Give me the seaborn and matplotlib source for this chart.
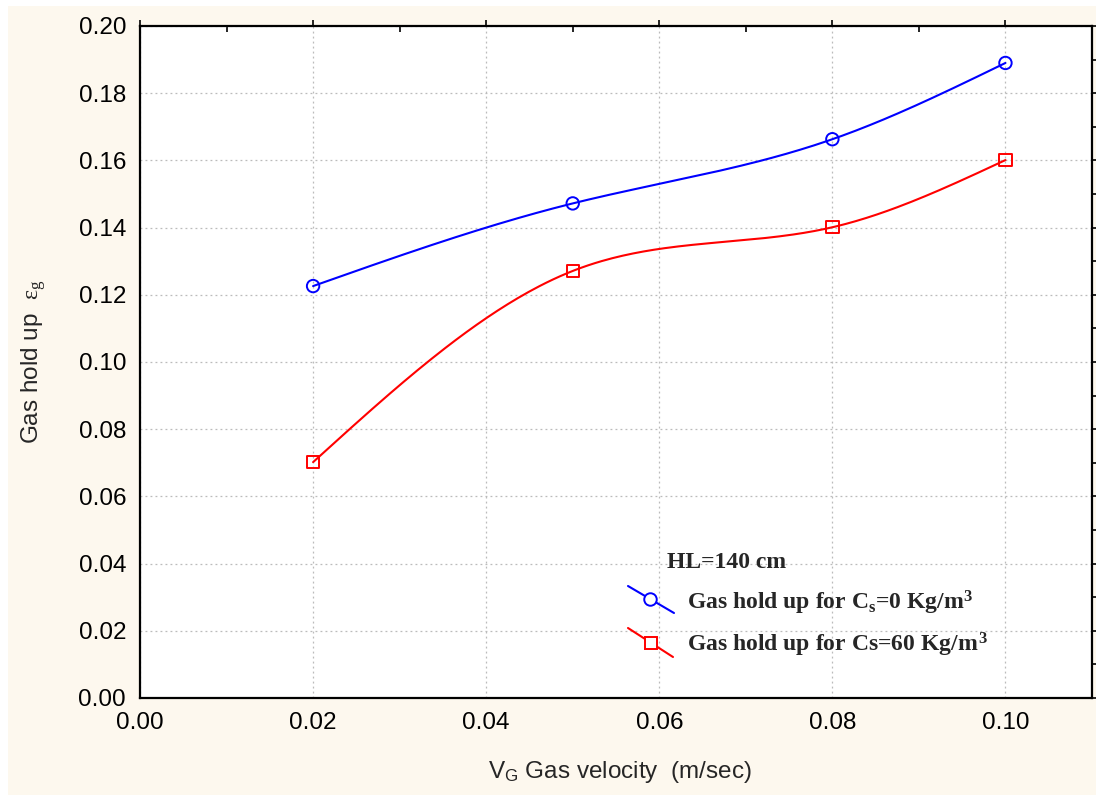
import numpy as np
import pandas as pd
import matplotlib
matplotlib.use("Agg")
import matplotlib.pyplot as plt
from matplotlib.lines import Line2D
from matplotlib.patches import Rectangle
from matplotlib.ticker import MultipleLocator, FormatStrFormatter, NullFormatter
import seaborn as sns

# ---- data ----
velocity = [0.02, 0.05, 0.08, 0.10]
holdup_cs0 = [0.1226, 0.1472, 0.1663, 0.1890]
holdup_cs60 = [0.0702, 0.1271, 0.1401, 0.1601]
series_names = ["Gas hold up for C$\\mathregular{_s}$=0 Kg/m$\\mathregular{^3}$",
                "Gas hold up for Cs=60 Kg/m$\\mathregular{^{\\,3}}$"]
legend_title = "HL=140 cm"
x_label = "V$\\mathregular{_G}$ Gas velocity  (m/sec)"
y_label = "Gas hold up  $\\mathrm{ε_g}$"


def natural_spline(x, y, n=200):
    x = np.asarray(x, float); y = np.asarray(y, float)
    k = len(x); h = np.diff(x)
    A = np.zeros((k, k)); b = np.zeros(k)
    A[0, 0] = A[-1, -1] = 1
    for i in range(1, k - 1):
        A[i, i - 1] = h[i - 1]; A[i, i] = 2 * (h[i - 1] + h[i]); A[i, i + 1] = h[i]
        b[i] = 6 * ((y[i + 1] - y[i]) / h[i] - (y[i] - y[i - 1]) / h[i - 1])
    M = np.linalg.solve(A, b)
    xs = np.linspace(x[0], x[-1], n)
    idx = np.clip(np.searchsorted(x, xs) - 1, 0, k - 2)
    x0, x1 = x[idx], x[idx + 1]; hh = x1 - x0
    ys = (M[idx] * (x1 - xs) ** 3 + M[idx + 1] * (xs - x0) ** 3) / (6 * hh) \
        + (y[idx] / hh - M[idx] * hh / 6) * (x1 - xs) \
        + (y[idx + 1] / hh - M[idx + 1] * hh / 6) * (xs - x0)
    return xs, ys


sns.set_theme(style="white")
plt.rcParams["font.family"] = ["Liberation Sans", "DejaVu Sans"]
plt.rcParams["mathtext.fontset"] = "custom"
plt.rcParams["mathtext.rm"] = "Liberation Serif"
plt.rcParams["mathtext.it"] = "Liberation Serif:italic"
plt.rcParams["mathtext.bf"] = "Liberation Serif:bold"

fig = plt.figure(figsize=(10.96, 7.96), dpi=100, facecolor="white")
fig.patches.append(Rectangle((8 / 1096, 1 / 796), 1 - 8 / 1096, 1 - 7 / 796,
                             transform=fig.transFigure, facecolor="#FDF8EE",
                             edgecolor="none", zorder=-10))
ax = fig.add_axes([140 / 1096, 1 - 698 / 796, 952 / 1096, 672 / 796])
ax.set_facecolor("white")

colors = ["#0000FF", "#FF0000"]
markers = ["o", "s"]
for vals, col, mk in zip([holdup_cs0, holdup_cs60], colors, markers):
    xs, ys = natural_spline(velocity, vals)
    sns.lineplot(x=xs, y=ys, ax=ax, color=col, linewidth=1.5, sort=False,
                 estimator=None, zorder=3)
    sns.scatterplot(x=velocity, y=vals, ax=ax, marker=mk, s=80,
                    facecolor="none", edgecolor=col, linewidth=1.4, zorder=4)

ax.set_xlim(0, 0.11)
ax.set_ylim(0, 0.20)
ax.xaxis.set_major_locator(MultipleLocator(0.02))
ax.xaxis.set_minor_locator(MultipleLocator(0.01))
ax.yaxis.set_major_locator(MultipleLocator(0.02))
ax.yaxis.set_minor_locator(MultipleLocator(0.01))
ax.xaxis.set_major_formatter(FormatStrFormatter("%.2f"))
ax.yaxis.set_major_formatter(FormatStrFormatter("%.2f"))
ax.grid(True, which="major", linestyle=(0, (1.5, 2.5)), color="#BBBBBB", linewidth=0.9)
for s in ax.spines.values():
    s.set_color("black"); s.set_linewidth(1.6)
ax.tick_params(which="major", direction="out", length=4, width=1.2, colors="black",
               labelsize=17.5, top=True, right=False, pad=6)
ax.tick_params(which="minor", direction="in", length=4, width=1.2, colors="black",
               top=True, right=False)

# right-hand ticks all pointing outward
sec = ax.secondary_yaxis("right")
sec.yaxis.set_major_locator(MultipleLocator(0.01))
sec.yaxis.set_major_formatter(NullFormatter())
sec.tick_params(direction="out", length=4, width=1.2, colors="black")
sec.spines["right"].set_visible(False)

ax.set_xlabel("")
ax.set_ylabel(y_label, fontsize=17.5)
ax.yaxis.set_label_coords(-0.097, 0.5)
fig.text(620 / 1096, 1 - 772 / 796, x_label, fontsize=17.5, ha="center", va="center")

# legend block
def fx(px): return (px - 140) / 952
def fy(py): return (698 - py) / 672

serif = ["Liberation Serif", "DejaVu Serif"]
ax.text(fx(667), fy(562), legend_title, transform=ax.transAxes, family=serif,
        fontweight="bold", fontsize=17, va="center", ha="left")
keys = [((628, 586), (674, 613), (650, 599), 603), ((628, 628), (673, 657), (651, 643), 645)]
for (p0, p1, pm, ty), col, mk, name in zip(keys, colors, markers, series_names):
    ax.add_line(Line2D([fx(p0[0]), fx(p1[0])], [fy(p0[1]), fy(p1[1])],
                       transform=ax.transAxes, color=col, linewidth=1.5, zorder=5))
    ax.add_line(Line2D([fx(pm[0])], [fy(pm[1])], transform=ax.transAxes, marker=mk,
                       markersize=9, markerfacecolor="white", markeredgecolor=col,
                       markeredgewidth=1.4, linestyle="none", zorder=6))
    ax.text(fx(687), fy(ty), name, transform=ax.transAxes, family=serif,
            fontweight="bold", fontsize=17, va="center", ha="left")

fig.savefig("out.png", dpi=100, facecolor=fig.get_facecolor())
